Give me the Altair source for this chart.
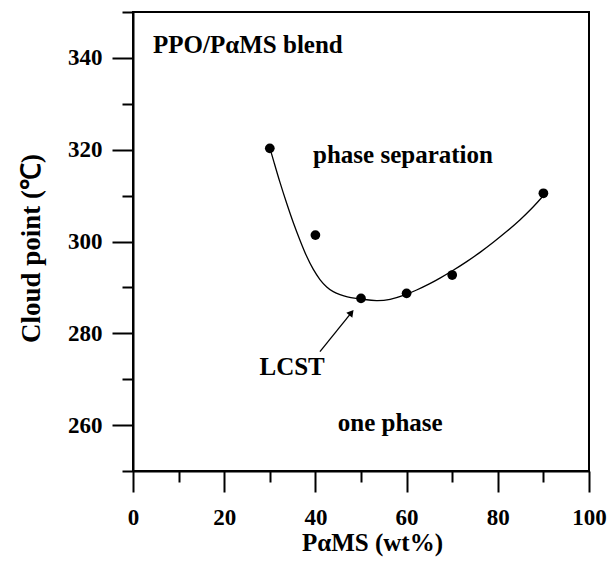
import altair as alt
import pandas as pd

# measured points
x_pams = [30, 40, 50, 60, 70, 90]
cloud_pt = [320.3, 301.4, 287.6, 288.7, 292.7, 310.5]

# fitted curve
curve_x = [30.0, 30.8, 32.2, 33.7, 35.2, 36.6, 38.1, 39.5, 41.0, 42.5, 43.9, 45.4,
           46.9, 49.1, 50.5, 53.4, 56.4, 59.3, 62.2, 65.1, 67.3, 70.2, 73.2, 76.1,
           79.0, 82.0, 84.9, 87.8, 90.0]
curve_y = [320.4, 317.7, 312.9, 308.3, 303.9, 300.3, 296.6, 293.9, 291.6, 290.0, 289.0, 288.4,
           287.9, 287.6, 287.4, 287.0, 287.3, 288.2, 289.4, 290.8, 292.0, 293.7, 295.6, 297.6,
           299.8, 302.2, 304.7, 307.5, 310.0]

x_ticks = [0, 10, 20, 30, 40, 50, 60, 70, 80, 90, 100]
y_ticks = [250, 260, 270, 280, 290, 300, 310, 320, 330, 340, 350]

# annotations
title_text = ["PPO/PαMS blend"]
title_x = [4.4]
title_y = [342.8]
ann_text = ["phase separation", "LCST", "one phase"]
ann_x = [59.2, 34.9, 56.4]
ann_y = [318.85, 272.7, 260.5]

# arrow (tail -> head)
arrow_x = [41.0]
arrow_y = [276.0]
arrow_x2 = [47.9]
arrow_y2 = [284.5]

FONT = "Liberation Serif"

pts = pd.DataFrame({"x": x_pams, "y": cloud_pt})
crv = pd.DataFrame({"x": curve_x, "y": curve_y})
ttl = pd.DataFrame({"t": title_text, "x": title_x, "y": title_y})
ann = pd.DataFrame({"t": ann_text, "x": ann_x, "y": ann_y})
arr = pd.DataFrame({"x": arrow_x, "y": arrow_y, "x2": arrow_x2, "y2": arrow_y2})

major = "datum.value % 20 === 0"
xscale = alt.Scale(domain=[0, 100], nice=False, zero=False)
yscale = alt.Scale(domain=[250, 350], nice=False, zero=False)

xaxis = alt.Axis(
    values=x_ticks, grid=False, title="PαMS (wt%)",
    tickSize={"condition": {"test": major, "value": 21}, "value": 11},
    tickWidth=2, tickColor="black", domainColor="black", domainWidth=2,
    labelExpr="datum.value % 20 === 0 ? datum.label : ''",
    labelFont=FONT, labelFontWeight="bold", labelFontSize=23, labelColor="black",
    labelPadding=14, labelFlush=False, labelOverlap=False,
    titleFont=FONT, titleFontWeight="bold", titleFontSize=25, titleColor="black",
    titlePadding=1, titleX=239,
)
yaxis = alt.Axis(
    values=y_ticks, grid=False, title="Cloud point (℃)",
    tickSize={"condition": {"test": major, "value": 21}, "value": 11},
    tickWidth=2, tickColor="black", domainColor="black", domainWidth=2,
    labelExpr="datum.value % 20 === 0 ? datum.label : ''",
    labelFont=FONT, labelFontWeight="bold", labelFontSize=23, labelColor="black",
    labelPadding=10, labelFlush=False, labelOverlap=False,
    titleFont=FONT, titleFontWeight="bold", titleFontSize=27, titleColor="black",
    titlePadding=22, titleY=236,
)

base_x = alt.X("x:Q", scale=xscale, axis=xaxis)
base_y = alt.Y("y:Q", scale=yscale, axis=yaxis)

curve = alt.Chart(crv).mark_line(color="black", strokeWidth=1.3, interpolate="basis").encode(
    x=base_x, y=base_y
)
points = alt.Chart(pts).mark_point(filled=True, color="black", size=95, opacity=1).encode(
    x="x:Q", y="y:Q"
)
title_mark = alt.Chart(ttl).mark_text(
    font=FONT, fontWeight="bold", fontSize=25, color="black", baseline="middle", align="left"
).encode(x="x:Q", y="y:Q", text="t:N")
texts = alt.Chart(ann).mark_text(
    font=FONT, fontWeight="bold", fontSize=25, color="black", baseline="middle", align="center"
).encode(x="x:Q", y="y:Q", text="t:N")
arrow_line = alt.Chart(arr).mark_rule(color="black", strokeWidth=1.3).encode(
    x="x:Q", y="y:Q", x2="x2:Q", y2="y2:Q"
)
arrow_head = alt.Chart(arr).mark_point(
    shape="triangle-up", filled=True, color="black", size=60, angle=39, opacity=1
).encode(x="x2:Q", y="y2:Q")

chart = alt.layer(curve, points, arrow_line, arrow_head, title_mark, texts).properties(
    width=456, height=459,
    autosize=alt.AutoSizeParams(type="none"),
    padding={"left": 133, "top": 12, "right": 20, "bottom": 92},
    background="white",
).configure_view(stroke="black", strokeWidth=2)

chart.save("out.html", embed_options={"renderer": "svg", "actions": False})
